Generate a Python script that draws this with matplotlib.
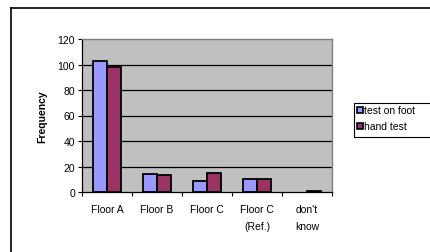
import matplotlib
matplotlib.use("Agg")
import matplotlib.pyplot as plt
from matplotlib.lines import Line2D
from matplotlib.patches import Rectangle

categories = ["Floor A", "Floor B", "Floor C", "Floor C\n(Ref.)", "don't\nknow"]
test_on_foot = [103, 14, 9, 10, 0]
hand_test = [98, 13, 15, 10, 1]
series_names = ["test on foot", "hand test"]
yticks = [0, 20, 40, 60, 80, 100, 120]

plt.rcParams['font.family'] = ['Liberation Sans', 'DejaVu Sans']

W, H = 430, 253
fig = plt.figure(figsize=(W / 100, H / 100), dpi=100)
fig.patch.set_facecolor('white')

# outer frame (top and left lines)
fig.add_artist(Line2D([11 / W, 1], [1 - 9 / H, 1 - 9 / H], color='black', lw=1.2))
fig.add_artist(Line2D([11 / W, 11 / W], [0, 1 - 9 / H], color='black', lw=1.2))

ax = fig.add_axes([82 / W, 60 / H, 250 / W, 153 / H])
ax.set_facecolor('#C0C0C0')

x = range(len(categories))
w = 0.286
ax.bar([i - w / 2 for i in x], test_on_foot, width=w, color='#9999FF',
       edgecolor='black', linewidth=[1.3 if v > 0 else 0 for v in test_on_foot], zorder=3)
ax.bar([i + w / 2 for i in x], hand_test, width=w, color='#993366',
       edgecolor='black', linewidth=[1.3 if v > 0 else 0 for v in hand_test], zorder=3)

ax.set_xlim(-0.5, len(categories) - 0.5)
ax.set_ylim(0, 120)
ax.set_yticks(yticks)
ax.set_yticklabels([str(v) for v in yticks], fontsize=7.5)
for v in yticks[1:-1]:
    ax.axhline(v, color='black', lw=0.9, zorder=1)

ax.set_xticks([i - 0.5 for i in range(len(categories) + 1)])
ax.set_xticklabels([])
ax.set_xticks(list(x), minor=True)
ax.set_xticklabels(categories, minor=True, fontsize=7.5, linespacing=1.8)
ax.tick_params(axis='x', which='minor', length=0, pad=9)
ax.tick_params(axis='x', which='major', length=3, width=0.8)
ax.tick_params(axis='y', length=3, width=0.8, pad=2)

for s in ['top', 'right']:
    ax.spines[s].set_color('#808080')
    ax.spines[s].set_linewidth(1.0)
for s in ['left', 'bottom']:
    ax.spines[s].set_color('black')
    ax.spines[s].set_linewidth(0.9)

fig.text(42 / W, 1 - 117 / H, 'Frequency', rotation=90, fontsize=7.5,
         fontweight='bold', ha='center', va='center')

# legend
fig.add_artist(Rectangle((353.5 / W, 1 - 137.5 / H), (W - 353.5) / W + 0.01, 33.5 / H,
                         transform=fig.transFigure, facecolor='white',
                         edgecolor='black', lw=0.8))
colors = ['#9999FF', '#993366']
ys = [111, 127]
for name, c, yy in zip(series_names, colors, ys):
    fig.add_artist(Rectangle((357 / W, 1 - (yy + 3) / H), 6 / W, 6 / H,
                             transform=fig.transFigure, facecolor=c,
                             edgecolor='black', lw=1.2))
    fig.text(364 / W, 1 - yy / H, name, fontsize=7.5, ha='left', va='center')

fig.savefig('out.png', dpi=100)
